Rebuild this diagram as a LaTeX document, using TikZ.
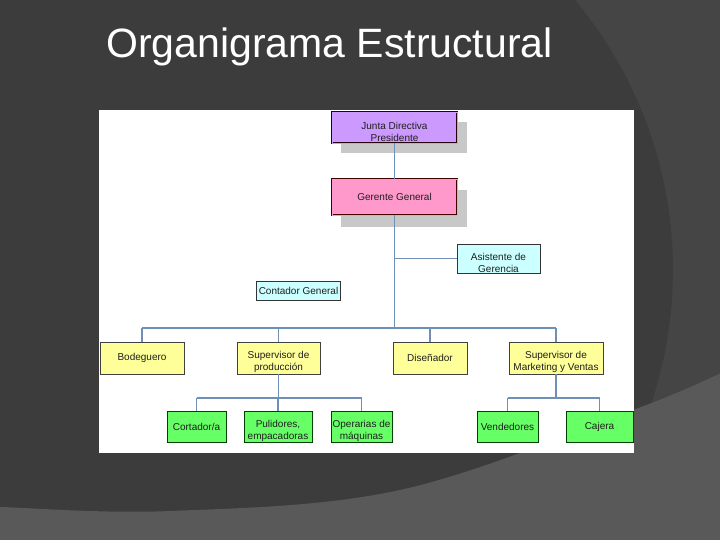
\documentclass[tikz,border=0pt]{standalone}
\usepackage{fontspec}
\setmainfont{Liberation Sans}
\definecolor{bgdark}{HTML}{3C3C3C}
\definecolor{arcgray}{HTML}{454545}
\definecolor{bandgray}{HTML}{595959}
\definecolor{shadowgray}{HTML}{C8C8C8}
\definecolor{purplebox}{HTML}{CC99FF}
\definecolor{pinkbox}{HTML}{FF99CC}
\definecolor{yellowbox}{HTML}{FFFF99}
\definecolor{greenbox}{HTML}{66FF66}
\definecolor{cyanbox}{HTML}{CCFFFF}
\definecolor{linkblue}{HTML}{6E8FB6}
\definecolor{textdark}{HTML}{1E1E1E}
\newcommand{\orgstrut}{\rule{0pt}{15.5pt}}
\tikzset{
  orgbox/.style={draw=#1, line width=0.8pt, inner sep=0pt, align=center,
    text=textdark, font=\fontsize{10}{11.7}\selectfont, anchor=center},
  topbox/.style={orgbox=#1, double distance=0.8pt, line width=0.8pt,
    minimum width=125pt},
  yellownode/.style={orgbox=black!75, fill=yellowbox, minimum height=32pt},
  greennode/.style={orgbox=green!25!black, fill=greenbox, minimum height=31pt},
  cyannode/.style={orgbox=black!80, fill=cyanbox},
  link/.style={draw=linkblue, line width=1.2pt},
  titletext/.style={text=white, font=\fontsize{41}{48}\selectfont, inner sep=0pt}
}
\begin{document}
\begin{tikzpicture}[x=1pt,y=-1pt]
\useasboundingbox (0,0) rectangle (720,540);
% background
\fill[bgdark] (0,0) rectangle (720,540);
\begin{scope}
\clip (0,0) rectangle (720,540);
\fill[arcgray, even odd rule] (0,0) rectangle (720,540) (252,270) circle [radius=421pt];
\fill[bandgray] (-5,548) -- plot[smooth, tension=0.6] coordinates {(-5,506.8) (0,507) (170,511) (400,490) (633,410) (725,371)} -- (725,548) -- cycle;
\end{scope}
% title
\node[titletext, anchor=base west] (title) at (106,58) {Organigrama Estructural};
% white panel
\fill[white] (98.5,110.5) rectangle (634,453);
% shadows
\fill[shadowgray] (341,122) rectangle (467,153);
\fill[shadowgray] (341,190) rectangle (467,227);
% top boxes
\node[topbox=black!80!purple, fill=purplebox, double=purplebox, minimum height=31pt] (junta) at (394.5,127.5) {\orgstrut Junta Directiva\\Presidente};
\node[topbox=black!75!red, fill=pinkbox, double=pinkbox, minimum height=36pt] (gerente) at (394.5,197) {Gerente General};
% staff
\node[cyannode, minimum width=83pt, minimum height=29pt] (asist) at (498.5,258.5) {\orgstrut Asistente de\\Gerencia};
\node[cyannode, minimum width=84pt, minimum height=19pt] (contador) at (298.5,291) {Contador General};
% level 2
\node[yellownode, minimum width=84pt] (bodeguero) at (142,358) {Bodeguero};
\node[yellownode, minimum width=83pt] (supprod) at (278.5,358) {\orgstrut Supervisor de\\producción};
\node[yellownode, minimum width=74pt] (disenador) at (430,358) {Diseñador};
\node[yellownode, minimum width=94pt] (supmkt) at (556,358) {\orgstrut Supervisor de\\Marketing y Ventas};
% level 3
\node[greennode, minimum width=59pt] (cortador) at (196.5,426.5) {Cortador/a};
\node[greennode, minimum width=68pt] (pulidores) at (278,426.5) {\orgstrut Pulidores,\\empacadoras};
\node[greennode, minimum width=61pt] (operarias) at (361.5,426.5) {\orgstrut Operarias de\\máquinas};
\node[greennode, minimum width=61pt] (vendedores) at (507.5,426.5) {Vendedores};
\node[greennode, minimum width=67pt] (cajera) at (599.5,426.5) {Cajera};
% bus coordinates
\coordinate (busmain) at (0,328);
\coordinate (busprod) at (0,398);
\coordinate (busmkt) at (0,398);
% connectors
\draw[link] (junta.south) -- (gerente.north);
\draw[link] (gerente.south) -- (gerente.south |- busmain);
\draw[link] (gerente.south |- asist.west) -- (asist.west);
\draw[link] (bodeguero.north |- busmain) -- (supmkt.north |- busmain);
\foreach \n in {bodeguero,supprod,disenador,supmkt}
  \draw[link] (\n.north |- busmain) -- (\n.north);
\draw[link] (supprod.south) -- (supprod.south |- busprod);
\draw[link] (cortador.north |- busprod) -- (operarias.north |- busprod);
\foreach \n in {cortador,pulidores,operarias}
  \draw[link] (\n.north |- busprod) -- (\n.north);
\draw[link] (supmkt.south) -- (supmkt.south |- busmkt);
\draw[link] (vendedores.north |- busmkt) -- (cajera.north |- busmkt);
\foreach \n in {vendedores,cajera}
  \draw[link] (\n.north |- busmkt) -- (\n.north);
\end{tikzpicture}
\end{document}
